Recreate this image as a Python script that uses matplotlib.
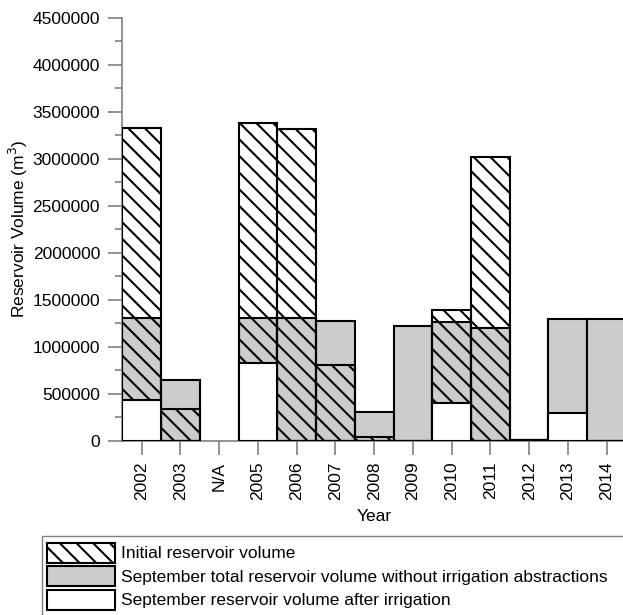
import numpy as np
import matplotlib.pyplot as plt
from matplotlib.patches import Patch, Rectangle

plt.rcParams['font.family'] = ['Liberation Sans', 'DejaVu Sans']
plt.rcParams['hatch.linewidth'] = 1.5
plt.rcParams['hatch.color'] = 'black'

# volumenes por anio (m3), N/A = sin datos
years = ['2002', '2003', 'N/A', '2005', '2006', '2007', '2008',
         '2009', '2010', '2011', '2012', '2013', '2014']
initial_vol = [3330000, 340000, 0, 3380000, 3320000, 810000, 40000,
               0, 1395000, 3020000, 10000, 0, 0]
sept_total = [1300000, 650000, 0, 1300000, 1300000, 1270000, 305000,
              1220000, 1260000, 1200000, 10000, 1290000, 1290000]
sept_after = [430000, 0, 0, 830000, 0, 0, 0,
              0, 400000, 0, 10000, 295000, 0]

gray = '#cccccc'
fs = 12.5
x = np.arange(len(years))
has_data = np.array([y != 'N/A' for y in years])

fig = plt.figure(figsize=(6.23, 6.15), dpi=100)
ax = fig.add_axes([0.1963, 0.2834, 0.8085, 0.688])

xs = x[has_data]
tot = np.array(sept_total)[has_data]
ini = np.array(initial_vol)[has_data]
aft = np.array(sept_after)[has_data]

# gris abajo, rayado encima, blanco tapa todo
ax.bar(xs, tot, width=1.0, color=gray, edgecolor='black', linewidth=1.5, zorder=2)
ax.bar(xs, ini, width=1.0, facecolor='none', edgecolor='black', hatch='\\\\',
       linewidth=1.5, zorder=3)
ax.bar(xs, aft, width=1.0, color='white', edgecolor='black', linewidth=1.5, zorder=4)

ax.set_xlim(-0.5, 12.5)
ax.set_ylim(0, 4500000)
ax.set_xticks(x)
ax.set_xticklabels(years, rotation=90, fontsize=fs)
ax.set_yticks(np.arange(0, 4500001, 500000))
ax.set_yticks(np.arange(250000, 4500000, 500000), minor=True)
ax.set_yticklabels([str(v) for v in range(0, 4500001, 500000)], fontsize=fs)
ax.tick_params(axis='both', which='major', length=10, width=1.2, color='#808080')
ax.tick_params(axis='y', which='major', pad=6)
ax.tick_params(axis='x', which='major', pad=5)
ax.tick_params(axis='y', which='minor', length=5, width=1.2, color='#808080')

for s in ['top', 'right']:
    ax.spines[s].set_visible(False)
for s in ['left', 'bottom']:
    ax.spines[s].set_color('#808080')
    ax.spines[s].set_linewidth(1.2)

ax.set_xlabel('Year', fontsize=fs, labelpad=6)
ax.set_ylabel('Reservoir Volume (m$^3$)', fontsize=fs, labelpad=1.5)

handles = [
    Patch(facecolor='white', edgecolor='black', hatch='\\\\', linewidth=1.5),
    Patch(facecolor=gray, edgecolor='black', linewidth=1.5),
    Patch(facecolor='white', edgecolor='black', linewidth=1.5),
]
labels = ['Initial reservoir volume',
          'September total reservoir volume without irrigation abstractions',
          'September reservoir volume after irrigation']
fig.legend(handles, labels, loc='upper left',
           bbox_to_anchor=(47.3 / 623, 1 - 542.5 / 615),
           fontsize=fs, frameon=False, handlelength=3.9, handleheight=1.4,
           labelspacing=0.2, handletextpad=0.35, borderpad=0,
           borderaxespad=0)

# marco de la leyenda, sigue fuera de la figura
fig.patches.append(Rectangle((41.7 / 623, -0.05), 1.0, 1 - 535.7 / 615 + 0.05,
                             transform=fig.transFigure, fill=False,
                             edgecolor='#808080', linewidth=1.0))

fig.savefig('out.png', dpi=100)
